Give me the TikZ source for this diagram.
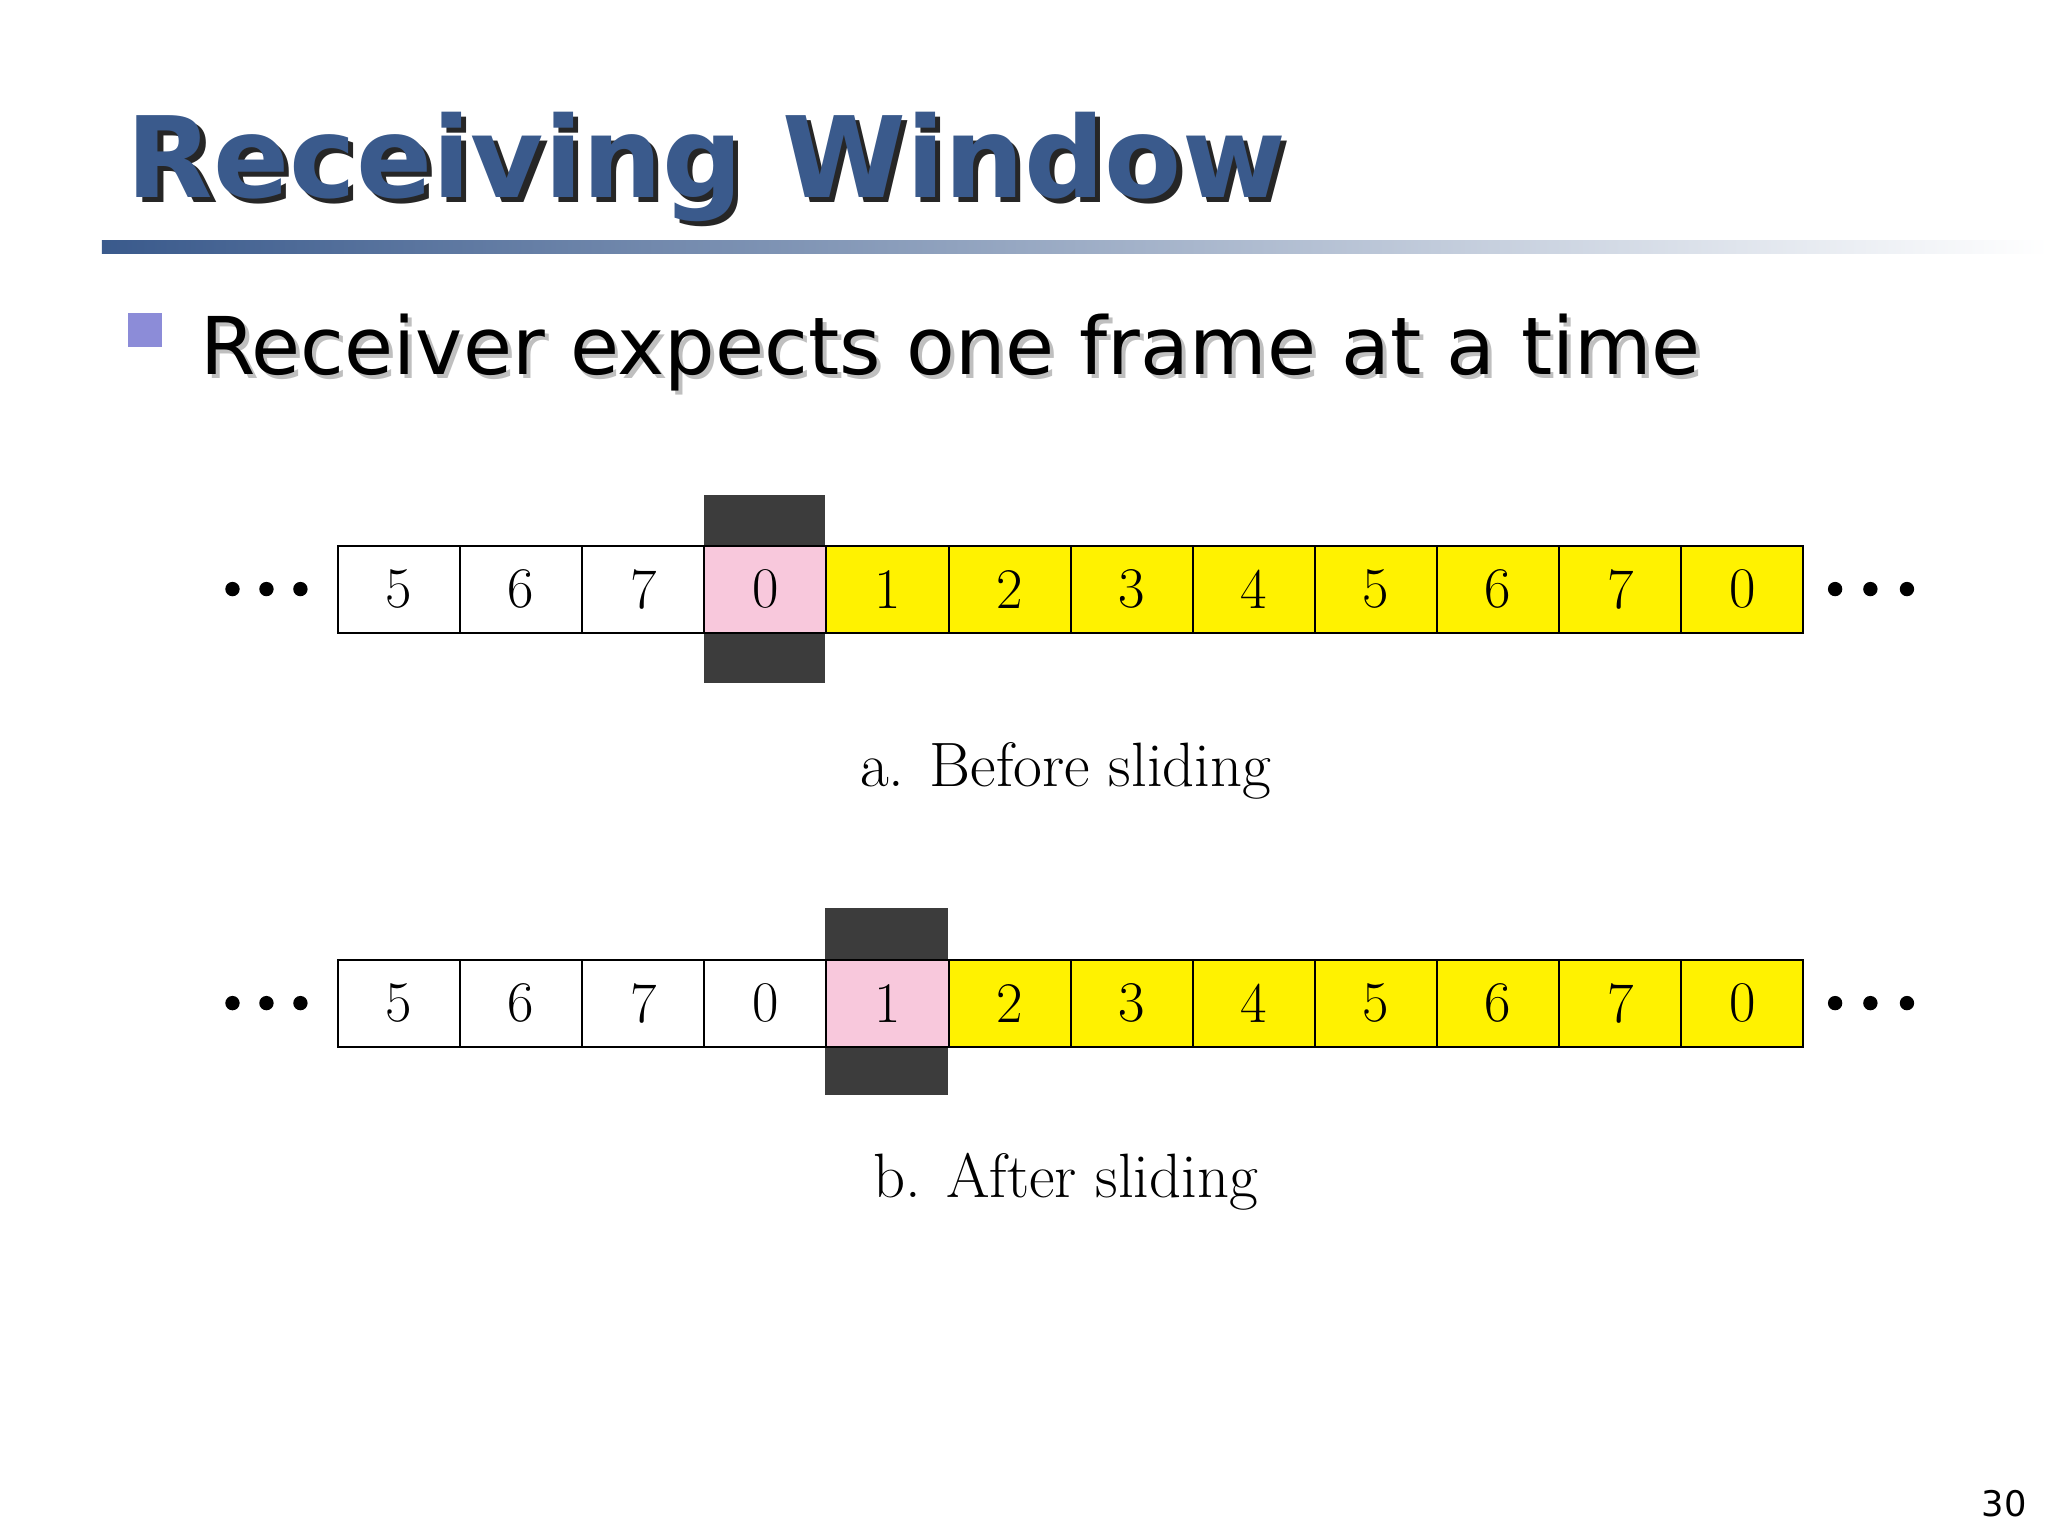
\documentclass[tikz,border=0pt]{standalone}
\usepackage{fontspec}
\newfontfamily\titlefont{DejaVu Sans}
\definecolor{tblue}{HTML}{3A5A8C}
\definecolor{bul}{HTML}{8C8CD8}
\definecolor{pinkc}{HTML}{F8C8DC}
\definecolor{darkc}{HTML}{3C3C3C}
\tikzset{cell/.style={draw=black,line width=1.5pt,minimum width=93.5pt,minimum height=67pt,inner sep=0pt,anchor=north west,font=\fontsize{44}{44}\selectfont},
 dot/.style={circle,fill=black,inner sep=0pt,minimum size=11pt},
 captext/.style={font=\fontsize{48}{48}\selectfont}}
\begin{document}
\begin{tikzpicture}[x=1pt,y=-1pt]
\useasboundingbox[fill=white] (0,0) rectangle (1568,1176);
% title
\node[anchor=base west,inner sep=0pt,text=black!85] at (101,155) {\titlefont\bfseries\fontsize{86}{86}\selectfont Receiving Window};
\node[anchor=base west,inner sep=0pt,text=tblue] (title) at (97,151) {\titlefont\bfseries\fontsize{86}{86}\selectfont Receiving Window};
\shade[left color=tblue,right color=white,draw=none] (78,184) rectangle (1568,194);
\fill[bul] (98,240) rectangle (124,266);
\node[anchor=base west,inner sep=0pt,text=black!25] at (156,290) {\titlefont\fontsize{61}{61}\selectfont Receiver expects one frame at a time};
\node[anchor=base west,inner sep=0pt] (bullet) at (153,287) {\titlefont\fontsize{61}{61}\selectfont Receiver expects one frame at a time};
% row a
\fill[darkc] (539,379) rectangle (632,523);
\foreach \n [count=\i from 0] in {5,6,7,0,1,2,3,4,5,6,7,0}{
  \pgfmathsetmacro\xx{258+93.5*\i}
  \ifnum\i<3 \def\fc{white}\else\ifnum\i=3 \def\fc{pinkc}\else\def\fc{yellow}\fi\fi
  \node[cell,fill=\fc] (a\i) at (\xx,417) {\n};
}
\foreach \x in {178,204,230,1405,1432,1460} \node[dot] at (\x,451) {};
\node[captext] (capa) at (816,590) {a. Before sliding};
% row b
\fill[darkc] (632,695) rectangle (726,838);
\foreach \n [count=\i from 0] in {5,6,7,0,1,2,3,4,5,6,7,0}{
  \pgfmathsetmacro\xx{258+93.5*\i}
  \ifnum\i<4 \def\fc{white}\else\ifnum\i=4 \def\fc{pinkc}\else\def\fc{yellow}\fi\fi
  \node[cell,fill=\fc] (b\i) at (\xx,734) {\n};
}
\foreach \x in {178,204,230,1405,1432,1460} \node[dot] at (\x,768) {};
\node[captext] (capb) at (816,905) {b. After sliding};
\node[anchor=base east,inner sep=0pt,font=\titlefont\fontsize{27}{27}\selectfont] (pg) at (1552,1161) {30};
\end{tikzpicture}
\end{document}
